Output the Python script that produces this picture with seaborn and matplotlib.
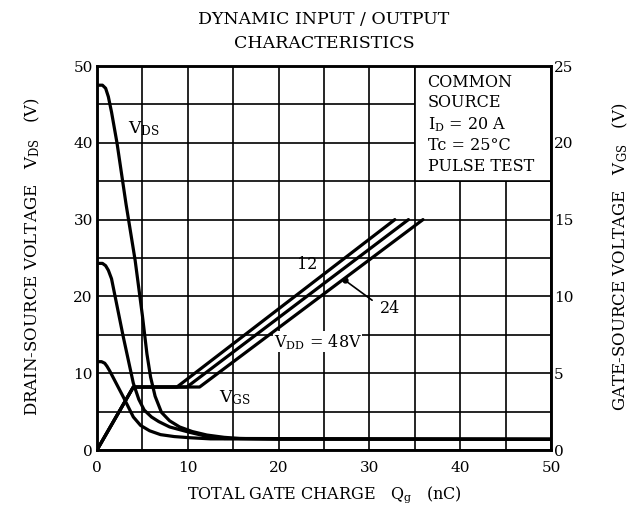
import numpy as np
import pandas as pd
import matplotlib
matplotlib.use("Agg")
import matplotlib.pyplot as plt
from matplotlib.patches import Rectangle
import seaborn as sns

# ---- data ----
qg_vds48 = [0, 0.6, 0.95, 1.25, 1.6, 2.2, 3.2, 4.2, 5.0, 5.5, 5.9, 6.4, 7.1, 8.0, 9.1, 10.5, 12.1, 14.0, 15.7, 20, 50]
vds48    = [47.5, 47.5, 47.1, 46.0, 44.0, 40, 32, 24.7, 17.5, 12.5, 9.5, 7.0, 4.9, 3.8, 3.0, 2.4, 1.95, 1.65, 1.5, 1.4, 1.4]
qg_vds24 = [0, 0.6, 0.95, 1.25, 1.6, 2.9, 4.0, 4.6, 5.2, 6.0, 6.8, 8.0, 10.2, 12.0, 14.0, 50]
vds24    = [24.3, 24.3, 24.0, 23.4, 22.3, 14.7, 8.7, 6.6, 5.2, 4.3, 3.7, 3.0, 2.3, 1.8, 1.5, 1.4]
qg_vds12 = [0, 0.5, 0.85, 1.1, 1.4, 2.9, 4.0, 4.8, 5.8, 7.0, 8.5, 10.2, 12.5, 50]
vds12    = [11.5, 11.5, 11.3, 10.9, 10.3, 6.9, 4.3, 3.2, 2.5, 2.0, 1.75, 1.6, 1.45, 1.4]
qg_vgs12 = [0, 4.0, 8.8, 32.8]
vgs12    = [0, 4.1, 4.1, 15]
qg_vgs24 = [0, 4.0, 9.9, 34.3]
vgs24    = [0, 4.1, 4.1, 15]
qg_vgs48 = [0, 4.0, 11.3, 35.9]
vgs48    = [0, 4.1, 4.1, 15]

x_ticks = [0, 10, 20, 30, 40, 50]
left_ticks = [0, 10, 20, 30, 40, 50]
right_ticks = [0, 5, 10, 15, 20, 25]

vds_df = pd.concat([
    pd.DataFrame({"Qg": qg_vds48, "V": vds48, "VDD": "48"}),
    pd.DataFrame({"Qg": qg_vds24, "V": vds24, "VDD": "24"}),
    pd.DataFrame({"Qg": qg_vds12, "V": vds12, "VDD": "12"}),
])
vgs_df = pd.concat([
    pd.DataFrame({"Qg": qg_vgs12, "V": vgs12, "VDD": "12"}),
    pd.DataFrame({"Qg": qg_vgs24, "V": vgs24, "VDD": "24"}),
    pd.DataFrame({"Qg": qg_vgs48, "V": vgs48, "VDD": "48"}),
])

sns.set_style("white")
plt.rcParams["font.family"] = ["DejaVu Serif"]
plt.rcParams["mathtext.fontset"] = "custom"
plt.rcParams["mathtext.rm"] = "DejaVu Serif"
plt.rcParams["mathtext.it"] = "DejaVu Serif"
plt.rcParams["text.color"] = "black"
plt.rcParams["xtick.color"] = "black"
plt.rcParams["ytick.color"] = "black"

fig = plt.figure(figsize=(6.37, 5.15), dpi=100)
ax = fig.add_axes([97/637, 1-450/515, (551-97)/637, (450-66)/515])

ax.set_xlim(0, 50)
ax.set_ylim(0, 50)
ax.grid(True, color="black", linewidth=1.2)
ax.set_axisbelow(True)

# info box hiding the grid
ax.add_patch(Rectangle((35, 35), 15, 15, facecolor="white", edgecolor="black",
                       linewidth=1.2, zorder=1.5))

palette = {"48": "black", "24": "black", "12": "black"}
sns.lineplot(data=vds_df, x="Qg", y="V", hue="VDD", units="VDD", estimator=None,
             sort=False, palette=palette, linewidth=2.3, legend=False, ax=ax, zorder=3)

ax.set_xticks(np.arange(0, 51, 5))
ax.set_yticks(np.arange(0, 51, 5))
ax.set_xticklabels([str(t) if t in x_ticks else "" for t in range(0, 51, 5)])
ax.set_yticklabels([str(t) if t in left_ticks else "" for t in range(0, 51, 5)])
ax.tick_params(axis="x", length=0, labelsize=11, pad=8, labelcolor="black")
ax.tick_params(axis="y", length=0, labelsize=11, pad=3, labelcolor="black")
ax.set_xlabel("")
ax.set_ylabel("")
for s in ax.spines.values():
    s.set_linewidth(1.8)
    s.set_color("black")

ax2 = ax.twinx()
ax2.set_ylim(0, 25)
sns.lineplot(data=vgs_df, x="Qg", y="V", hue="VDD", units="VDD", estimator=None,
             sort=False, palette=palette, linewidth=2.3, legend=False, ax=ax2, zorder=3)
ax2.set_yticks(right_ticks)
ax2.set_yticklabels([str(t) for t in right_ticks])
ax2.tick_params(axis="y", length=0, labelsize=11, pad=2, labelcolor="black")
ax2.set_ylabel("")
ax2.set_xlim(0, 50)
for s in ax2.spines.values():
    s.set_linewidth(1.8)
    s.set_color("black")

# box text
ax.text(36.4, 49.0, "COMMON\nSOURCE\nI$_\\mathrm{D}$ = 20 A\nTc = 25°C\nPULSE TEST",
        ha="left", va="top", fontsize=11.5, linespacing=1.27, zorder=4)

# curve annotations
ax.text(5.2, 41.8, "V$_\\mathrm{DS}$", ha="center", va="center", fontsize=12.5, zorder=4)
ax.text(15.2, 6.8, "V$_\\mathrm{GS}$", ha="center", va="center", fontsize=12.5, zorder=4)
ax.text(23.2, 24.2, "12", ha="center", va="center", fontsize=11.5, zorder=4)
ax.text(32.3, 18.4, "24", ha="center", va="center", fontsize=11.5, zorder=4)
ax.plot([27.3, 30.3], [22.1, 19.5], color="black", linewidth=1.2, zorder=4)
ax.plot([27.3], [22.1], marker="o", color="black", markersize=3.5, zorder=4)
ax.text(24.3, 14.1, "V$_\\mathrm{DD}$ = 48V", ha="center", va="center", fontsize=11.5,
        zorder=4, bbox=dict(facecolor="white", edgecolor="none", pad=0.5))

# titles and axis labels
fig.text(324/637, 1-19/515, "DYNAMIC INPUT / OUTPUT", ha="center", va="center", fontsize=12.5)
fig.text(324/637, 1-44/515, "CHARACTERISTICS", ha="center", va="center", fontsize=12.5)
fig.text(324/637, 1-495/515, "TOTAL GATE CHARGE   Q$_\\mathrm{g}$   (nC)",
         ha="center", va="center", fontsize=11.5)
fig.text(32/637, 1-257/515, "DRAIN-SOURCE VOLTAGE   V$_\\mathrm{DS}$   (V)",
         ha="center", va="center", rotation=90, fontsize=12)
fig.text(620/637, 1-257/515, "GATE-SOURCE VOLTAGE   V$_\\mathrm{GS}$   (V)",
         ha="center", va="center", rotation=90, fontsize=12)

fig.savefig("out.png", dpi=100, facecolor="white")
